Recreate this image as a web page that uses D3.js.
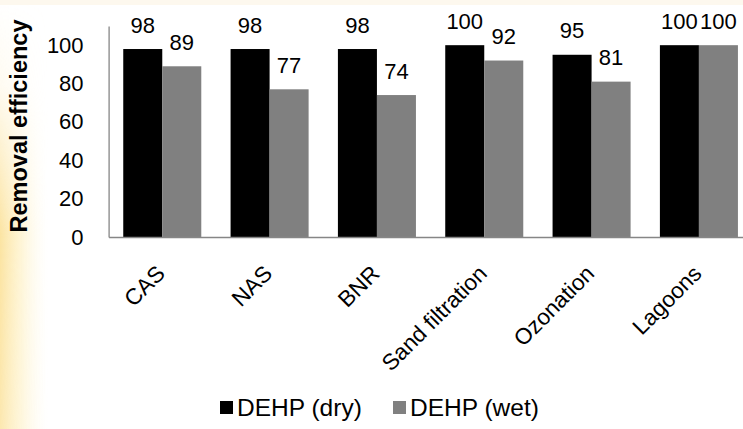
<!DOCTYPE html>
<html>
<head>
<meta charset="utf-8">
<script src="https://cdn.jsdelivr.net/npm/d3@7"></script>
<style>
  html, body { margin: 0; padding: 0; background: #ffffff; }
  svg { display: block; font-family: "Liberation Sans", Arial, sans-serif; }
</style>
</head>
<body>
<script>
const categories = ["CAS", "NAS", "BNR", "Sand filtration", "Ozonation", "Lagoons"];
const seriesNames = ["DEHP (dry)", "DEHP (wet)"];
const dryValues = [98, 98, 98, 100, 95, 100];
const wetValues = [89, 77, 74, 92, 81, 100];
const yTicks = [0, 20, 40, 60, 80, 100];
const seriesColors = ["#000000", "#808080"];

(function () {
const W = 743, H = 429;
const svg = d3.select("body").append("svg").attr("width", W).attr("height", H);

// background decorations
const defs = svg.append("defs");
const hg = defs.append("linearGradient").attr("id", "hg").attr("x1", 0).attr("x2", 1).attr("y1", 0).attr("y2", 0);
hg.append("stop").attr("offset", 0).attr("stop-color", "rgb(250,210,100)").attr("stop-opacity", 0.6);
hg.append("stop").attr("offset", 0.45).attr("stop-color", "rgb(252,226,140)").attr("stop-opacity", 0.35);
hg.append("stop").attr("offset", 1).attr("stop-color", "rgb(255,245,210)").attr("stop-opacity", 0);
const vg = defs.append("linearGradient").attr("id", "vg").attr("x1", 0).attr("x2", 0).attr("y1", 0).attr("y2", 1);
vg.append("stop").attr("offset", 0).attr("stop-color", "#fff").attr("stop-opacity", 0);
vg.append("stop").attr("offset", 0.2).attr("stop-color", "#fff").attr("stop-opacity", 0.15);
vg.append("stop").attr("offset", 0.55).attr("stop-color", "#fff").attr("stop-opacity", 1);
vg.append("stop").attr("offset", 1).attr("stop-color", "#fff").attr("stop-opacity", 0.85);
const mask = defs.append("mask").attr("id", "vm");
mask.append("rect").attr("x", 0).attr("y", 0).attr("width", 60).attr("height", H).attr("fill", "url(#vg)");
svg.append("rect").attr("x", 0).attr("y", 0).attr("width", 48).attr("height", H)
  .attr("fill", "url(#hg)").attr("mask", "url(#vm)");
svg.append("rect").attr("x", 0).attr("y", 0).attr("width", W).attr("height", 5).attr("fill", "#fdf8ee");

// layout
const plotLeft = 108.6, bandStep = 107.33;
const plotRight = plotLeft + bandStep * categories.length;
const plotTop = 26, plotBottom = 237;

const x0 = d3.scaleBand().domain(categories).range([plotLeft, plotRight])
  .paddingInner(0.273).paddingOuter(0.1365);
const x1 = d3.scaleBand().domain(seriesNames).range([0, x0.bandwidth()]);
const y = d3.scaleLinear().domain([0, 110]).range([plotBottom, plotTop]);

const data = categories.map((c, i) => ({ cat: c, vals: [dryValues[i], wetValues[i]] }));

// bars
const groups = svg.append("g").selectAll("g").data(data).join("g")
  .attr("transform", d => `translate(${x0(d.cat)},0)`);
groups.selectAll("rect").data(d => d.vals.map((v, k) => ({ v, k })))
  .join("rect")
  .attr("x", d => x1(seriesNames[d.k]))
  .attr("y", d => y(d.v))
  .attr("width", x1.bandwidth())
  .attr("height", d => y(0) - y(d.v))
  .attr("fill", d => seriesColors[d.k]);

// value labels
groups.selectAll("text").data(d => d.vals.map((v, k) => ({ v, k })))
  .join("text")
  .attr("x", d => x1(seriesNames[d.k]) + x1.bandwidth() / 2)
  .attr("y", d => y(d.v) - 16.5)
  .attr("text-anchor", "middle")
  .attr("font-size", 22)
  .attr("fill", "#000")
  .text(d => d.v);

// y axis
const yAxis = d3.axisLeft(y).tickValues(yTicks).tickSize(0).tickPadding(25);
const yg = svg.append("g").attr("transform", `translate(${plotLeft},0)`).call(yAxis);
yg.select(".domain").attr("stroke", "#868686").attr("stroke-width", 1.3);
yg.selectAll("text").attr("font-size", 22).attr("fill", "#000")
  .attr("font-family", "Liberation Sans, Arial, sans-serif");

// x axis
const xAxis = d3.axisBottom(x0).tickSize(0).tickFormat("");
const xg = svg.append("g").attr("transform", `translate(0,${plotBottom})`).call(xAxis);
xg.select(".domain").attr("stroke", "#868686").attr("stroke-width", 1.3);

// category labels
svg.append("g").selectAll("text").data(categories).join("text")
  .attr("transform", c => `translate(${x0(c) + x0.bandwidth() / 2 + 4},275) rotate(-45)`)
  .attr("text-anchor", "end")
  .attr("font-size", 22.5)
  .attr("fill", "#000")
  .text(c => c);

// y axis title
svg.append("text")
  .attr("transform", `translate(27,126) rotate(-90)`)
  .attr("text-anchor", "middle")
  .attr("font-size", 23.5)
  .attr("font-weight", "bold")
  .attr("fill", "#000")
  .text("Removal efficiency");

// legend
const legendItems = [{ name: seriesNames[0], x: 220, color: seriesColors[0] },
                     { name: seriesNames[1], x: 393, color: seriesColors[1] }];
const lg = svg.append("g").selectAll("g").data(legendItems).join("g")
  .attr("transform", d => `translate(${d.x},0)`);
lg.append("rect").attr("x", 0).attr("y", 401).attr("width", 13).attr("height", 13)
  .attr("fill", d => d.color);
lg.append("text").attr("x", 17).attr("y", 415.5).attr("font-size", 24.5).attr("fill", "#000")
  .text(d => d.name);
})();
</script>
</body>
</html>
